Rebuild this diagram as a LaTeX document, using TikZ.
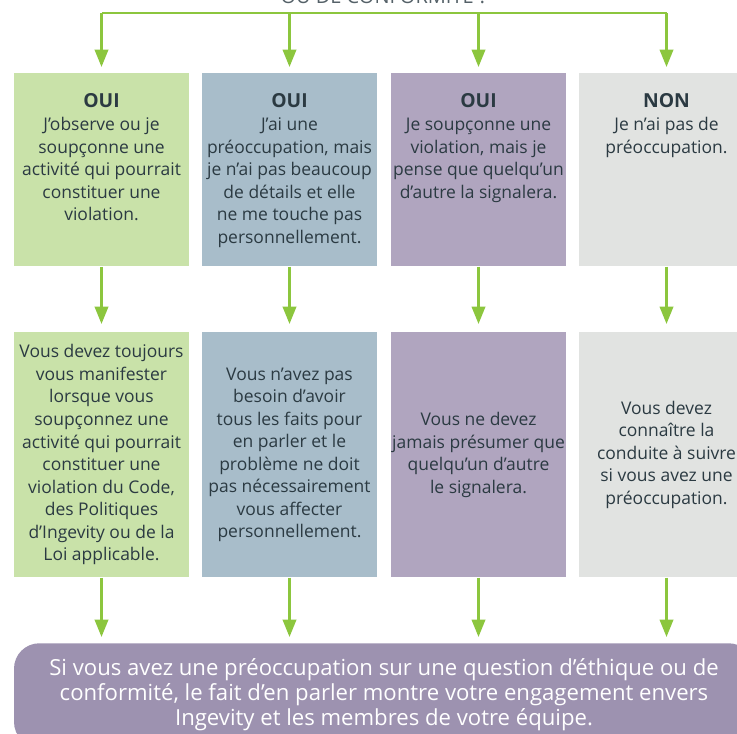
\documentclass[tikz,border=0pt]{standalone}
\usepackage{fontspec}
\setmainfont{Open Sans}
\usetikzlibrary{arrows.meta,positioning}
\definecolor{leaf}{HTML}{8CC63E}
\definecolor{ink}{HTML}{2B3A42}
\definecolor{greenbox}{HTML}{C9E2A9}
\definecolor{bluebox}{HTML}{A8BDCA}
\definecolor{mauvebox}{HTML}{B0A5BF}
\definecolor{greybox}{HTML}{E1E3E1}
\definecolor{footbox}{HTML}{9D92B0}

\begin{document}
\begin{tikzpicture}[x=0.75pt,y=-0.75pt,
    case/.style={rectangle, anchor=north, inner sep=0pt, minimum width=131.25pt},
    casetext/.style={inner sep=0pt, text=ink, align=center, font=\fontsize{13.1}{16.9}\selectfont},
    flow/.style={draw=leaf, line width=1.9pt, -{Triangle[length=13pt,width=10pt]}, shorten >=4.5pt},
    bar/.style={draw=leaf, line width=1.9pt}]

    \useasboundingbox (0,0) rectangle (737,733);

    % titre (coupe en haut)
    \node[anchor=base, text=ink!80, font=\fontsize{15}{18}\selectfont] (title) at (384,3) {OU DE CONFORMIT\'E ?};
    \coordinate (fork) at (102,13);

    % premiere rangee
    \node[case, fill=greenbox, minimum height=144.75pt] (q1) at (101.5,73) {};
    \node[case, fill=bluebox, minimum height=144.75pt] (q2) at (289.5,73) {};
    \node[case, fill=mauvebox, minimum height=144.75pt] (q3) at (478.5,73) {};
    \node[case, fill=greybox, minimum height=144.75pt] (q4) at (666.5,73) {};

    \node[casetext, below=15.5pt of q1.north] (t1) {{\bfseries\fontsize{14.5}{16.9}\selectfont OUI}\\J'observe ou je\\soup\c{c}onne une\\activit\'e qui pourrait\\constituer une\\violation.};
    \node[casetext, below=15.5pt of q2.north] (t2) {{\bfseries\fontsize{14.5}{16.9}\selectfont OUI}\\J'ai une\\pr\'eoccupation, mais\\je n'ai pas beaucoup\\de d\'etails et elle\\ne me touche pas\\personnellement.};
    \node[casetext, below=15.5pt of q3.north] (t3) {{\bfseries\fontsize{14.5}{16.9}\selectfont OUI}\\Je soup\c{c}onne une\\violation, mais je\\pense que quelqu'un\\d'autre la signalera.};
    \node[casetext, below=15.5pt of q4.north] (t4) {{\bfseries\fontsize{14.5}{16.9}\selectfont NON}\\Je n'ai pas de\\pr\'eoccupation.};

    % deuxieme rangee
    \node[case, casetext, fill=greenbox, minimum height=183.75pt] (r1) at (101.5,332) {Vous devez toujours\\vous manifester\\lorsque vous\\soup\c{c}onnez une\\activit\'e qui pourrait\\constituer une\\violation du Code,\\des Politiques\\d'Ingevity ou de la\\Loi applicable.};
    \node[case, casetext, fill=bluebox, minimum height=183.75pt] (r2) at (289.5,332) {Vous n'avez pas\\besoin d'avoir\\tous les faits pour\\en parler et le\\probl\`eme ne doit\\pas n\'ecessairement\\vous affecter\\personnellement.};
    \node[case, casetext, fill=mauvebox, minimum height=183.75pt] (r3) at (478.5,332) {Vous ne devez\\jamais pr\'esumer que\\quelqu'un d'autre\\le signalera.};
    \node[case, casetext, fill=greybox, minimum height=183.75pt] (r4) at (666.5,332) {Vous devez\\conna\^itre la\\conduite \`a suivre\\si vous avez une\\pr\'eoccupation.};

    % bandeau du bas
    \node[anchor=north, fill=footbox, rounded corners=19pt, minimum width=555pt, minimum height=78pt, inner sep=0pt, text=white, align=center, font=\fontsize{16.6}{18.8}\selectfont, text depth=5pt] (foot) at (384,643) {Si vous avez une pr\'eoccupation sur une question d'\'ethique ou de\\conformit\'e, le fait d'en parler montre votre engagement envers\\Ingevity et les membres de votre \'equipe.};

    % fleches
    \draw[bar] (fork) -- (fork -| q4.north);
    \foreach \s in {1,...,4}{
        \draw[flow] (fork -| q\s.north) -- (q\s.north);
        \draw[flow, shorten >=6pt] (q\s.south) -- (r\s.north);
        \draw[flow] (r\s.south) -- (r\s.south |- foot.north);
    }

\end{tikzpicture}
\end{document}
